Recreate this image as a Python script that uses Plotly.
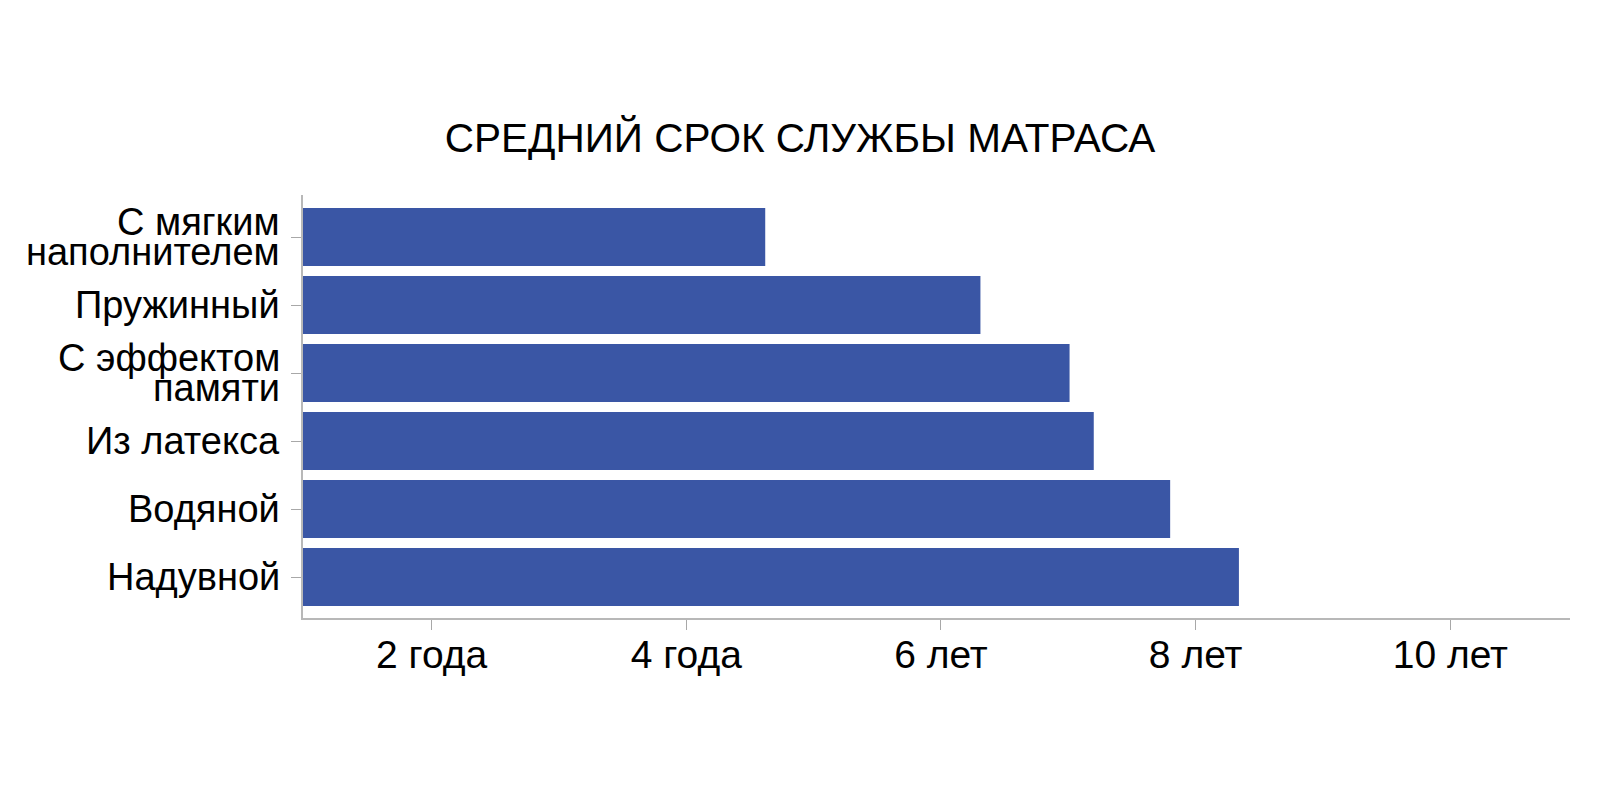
import plotly.graph_objects as go

# Mattress types, listed bottom-to-top as they appear on the chart
categories = [
    "Надувной",
    "Водяной",
    "Из латекса",
    "С эффектом памяти",
    "Пружинный",
    "С мягким наполнителем",
]
# Label lines for each category (two-line labels are set tighter than <br> allows)
label_lines = [
    ["Надувной"],
    ["Водяной"],
    ["Из латекса"],
    ["С эффектом", "памяти"],
    ["Пружинный"],
    ["С мягким", "наполнителем"],
]
# Average service life, years
years = [8.34, 7.8, 7.2, 7.01, 6.31, 4.62]

tick_vals = [2, 4, 6, 8, 10]
tick_text = ["2 года", "4 года", "6 лет", "8 лет", "10 лет"]

FONT = "Liberation Sans, Arial, sans-serif"
LINE_STEP = 29.5  # px between baselines of a two-line label

fig = go.Figure()

fig.add_trace(go.Bar(
    x=years,
    y=categories,
    orientation="h",
    marker=dict(color="#3a56a5", line=dict(width=0)),
    showlegend=False,
    hoverinfo="x+y",
))

# category labels, right-aligned next to the y axis
for cat, lines in zip(categories, label_lines):
    n = len(lines)
    for i, line in enumerate(lines):
        fig.add_annotation(
            x=0, xref="paper", xanchor="right", xshift=-21,
            y=cat, yref="y", yanchor="middle",
            yshift=((n - 1) / 2 - i) * LINE_STEP,
            text=line, showarrow=False,
            font=dict(family=FONT, size=38, color="black"),
        )

fig.update_layout(
    width=1584,
    height=784,
    paper_bgcolor="white",
    plot_bgcolor="white",
    font=dict(family=FONT, color="black"),
    title=dict(
        text="СРЕДНИЙ СРОК СЛУЖБЫ МАТРАСА",
        font=dict(family=FONT, size=40.5, color="black"),
        x=0.5, xanchor="center",
        y=0.835, yanchor="middle",
    ),
    bargap=0.147,
    margin=dict(l=295, r=22, t=187, b=174),
    xaxis=dict(
        range=[0.99, 10.94],
        tickmode="array",
        tickvals=tick_vals,
        ticktext=tick_text,
        ticks="outside",
        ticklen=10,
        tickcolor="#a8a8a8",
        showline=True,
        linecolor="#b8b8b8",
        linewidth=2,
        showgrid=False,
        zeroline=False,
        tickfont=dict(size=39),
        ticklabelstandoff=-9,
    ),
    yaxis=dict(
        range=[-0.603, 5.618],
        ticks="outside",
        ticklen=10,
        tickcolor="#a8a8a8",
        showline=True,
        linecolor="#b8b8b8",
        linewidth=1.5,
        showgrid=False,
        zeroline=False,
        showticklabels=False,
    ),
)

fig.write_html("out.html")
